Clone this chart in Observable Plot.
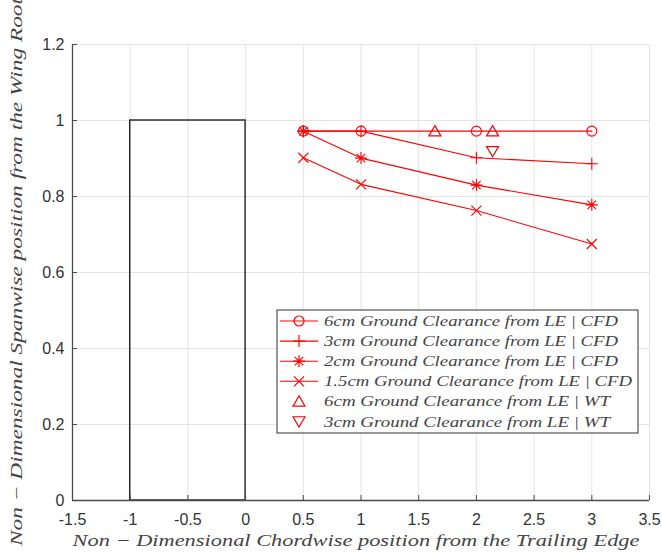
<!DOCTYPE html>
<html><head><meta charset="utf-8">
<script src="https://cdn.jsdelivr.net/npm/d3@7"></script>
<script src="https://cdn.jsdelivr.net/npm/@observablehq/plot@0.6"></script>
<style>
body{margin:0;background:#fff}
#chart{position:relative;width:662px;height:558px}
</style>
</head><body><div id="chart"></div>
<script>
// ---- data ----
const xTicks = [-1.5, -1, -0.5, 0, 0.5, 1, 1.5, 2, 2.5, 3, 3.5];
const yTicks = [0, 0.2, 0.4, 0.6, 0.8, 1, 1.2];
const cfdX = [0.5, 1, 2, 3];
const cfd6cm = [0.972, 0.972, 0.972, 0.972];
const cfd3cm = [0.972, 0.972, 0.902, 0.886];
const cfd2cm = [0.972, 0.901, 0.830, 0.778];
const cfd15cm = [0.902, 0.832, 0.763, 0.675];
const wt6cmX = [1.64, 2.14];
const wt6cmY = [0.972, 0.972];
const wt3cmX = [2.14];
const wt3cmY = [0.919];
const wingX = [-1, 0];
const wingY = [0, 1];
const legendLabels = [
  "6cm Ground Clearance from LE | CFD",
  "3cm Ground Clearance from LE | CFD",
  "2cm Ground Clearance from LE | CFD",
  "1.5cm Ground Clearance from LE | CFD",
  "6cm Ground Clearance from LE | WT",
  "3cm Ground Clearance from LE | WT"
];
const xLabel = "Non \u2212 Dimensional Chordwise position from the Trailing Edge";
const yLabel = "Non \u2212 Dimensional Spanwise position from the Wing Root";

// ---- custom marker symbols (MATLAB-like) ----
const S = size => Math.sqrt(size / Math.PI);
const symCircle = {draw(c, size){ const s = S(size); c.moveTo(s, 0); c.arc(0, 0, s, 0, 2 * Math.PI); }};
const symPlus = {draw(c, size){ const s = S(size) * 1.2; c.moveTo(-s, 0); c.lineTo(s, 0); c.moveTo(0, -s); c.lineTo(0, s); }};
const symTimes = {draw(c, size){ const s = S(size) * 1.0; c.moveTo(-s, -s); c.lineTo(s, s); c.moveTo(-s, s); c.lineTo(s, -s); }};
const symAsterisk = {draw(c, size){ const s = S(size) * 1.2, t = S(size) * 0.85;
  c.moveTo(-s, 0); c.lineTo(s, 0); c.moveTo(0, -s); c.lineTo(0, s);
  c.moveTo(-t, -t); c.lineTo(t, t); c.moveTo(-t, t); c.lineTo(t, -t); }};
const symTriUp = {draw(c, size){ const s = S(size); c.moveTo(0, -1.1 * s); c.lineTo(1.2 * s, 0.95 * s); c.lineTo(-1.2 * s, 0.95 * s); c.closePath(); }};
const symTriDown = {draw(c, size){ const s = S(size); c.moveTo(0, 1.1 * s); c.lineTo(1.2 * s, -0.95 * s); c.lineTo(-1.2 * s, -0.95 * s); c.closePath(); }};

const cfdSeries = [
  {name: legendLabels[0], y: cfd6cm, symbol: symCircle},
  {name: legendLabels[1], y: cfd3cm, symbol: symPlus},
  {name: legendLabels[2], y: cfd2cm, symbol: symAsterisk},
  {name: legendLabels[3], y: cfd15cm, symbol: symTimes}
];
const cfdRows = cfdSeries.flatMap(s => cfdX.map((x, i) => ({series: s.name, x, y: s.y[i]})));
const wt6Rows = wt6cmX.map((x, i) => ({x, y: wt6cmY[i]}));
const wt3Rows = wt3cmX.map((x, i) => ({x, y: wt3cmY[i]}));
const wingRows = [{x1: wingX[0], x2: wingX[1], y1: wingY[0], y2: wingY[1]}];

const W = 662, H = 558;
const mL = 72, mR = 13, mT = 44, mB = 58;
const innerW = W - mL - mR, innerH = H - mT - mB;
const RED = "#ff0000";
const AX = "#4a4a4a";
const markR = 5;

const marks = [
  Plot.ruleX(xTicks, {x: d => d, stroke: "#e4e4e4", strokeWidth: 1}),
  Plot.ruleY(yTicks, {y: d => d, stroke: "#e4e4e4", strokeWidth: 1}),
  Plot.rect(wingRows, {x1: "x1", x2: "x2", y1: "y1", y2: "y2", fill: "none", stroke: "#222", strokeWidth: 1.4}),
  Plot.line(cfdRows, {x: "x", y: "y", z: "series", stroke: RED, strokeWidth: 1.1}),
  ...cfdSeries.map(s => Plot.dot(cfdRows.filter(r => r.series === s.name), {x: "x", y: "y", symbol: s.symbol, r: markR, stroke: RED, fill: "none", strokeWidth: 1.1})),
  Plot.dot(wt6Rows, {x: "x", y: "y", symbol: symTriUp, r: markR, stroke: RED, fill: "none", strokeWidth: 1.2}),
  Plot.dot(wt3Rows, {x: "x", y: "y", symbol: symTriDown, r: markR, stroke: RED, fill: "none", strokeWidth: 1.2}),
  Plot.ruleY([yTicks[0]], {y: d => d, stroke: AX, strokeWidth: 1.3}),
  Plot.ruleX([xTicks[0]], {x: d => d, stroke: AX, strokeWidth: 1.3}),
  Plot.tickX(xTicks, {x: d => d, insetTop: innerH - 5, stroke: AX, strokeWidth: 1}),
  Plot.tickY(yTicks, {y: d => d, insetRight: innerW - 5, stroke: AX, strokeWidth: 1}),
  Plot.axisX({ticks: xTicks, tickSize: 0, tickPadding: 13, tickFormat: d => String(d), label: null}),
  Plot.axisY({ticks: yTicks, tickSize: 0, tickPadding: 8, tickFormat: d => String(d), label: null})
];

const chart = Plot.plot({
  width: W, height: H,
  marginLeft: mL, marginRight: mR, marginTop: mT, marginBottom: mB,
  x: {domain: [xTicks[0], xTicks[xTicks.length - 1]]},
  y: {domain: [yTicks[0], yTicks[yTicks.length - 1]]},
  style: {fontFamily: "'Liberation Sans', Arial, sans-serif", fontSize: "16px", color: "#333", background: "#fff"},
  marks
});
document.getElementById("chart").appendChild(chart);

// ---- axis titles and legend (layout decorations) ----
const svg = d3.select(chart);
const serif = "Liberation Serif";
svg.append("text")
  .attr("x", 356).attr("y", 546)
  .attr("text-anchor", "middle")
  .attr("font-family", serif).attr("font-style", "italic").attr("font-weight", "normal").attr("font-size", 16.5)
  .attr("fill", "#444")
  .attr("textLength", 567).attr("lengthAdjust", "spacingAndGlyphs")
  .text(xLabel);
svg.append("text")
  .attr("transform", `translate(${22},${272}) rotate(-90)`)
  .attr("text-anchor", "middle")
  .attr("font-family", serif).attr("font-style", "italic").attr("font-weight", "normal").attr("font-size", 16.5)
  .attr("fill", "#444")
  .attr("textLength", 548).attr("lengthAdjust", "spacingAndGlyphs")
  .text(yLabel);

const lg = svg.append("g");
lg.append("rect").attr("x", 277).attr("y", 310).attr("width", 361).attr("height", 123)
  .attr("fill", "#fff").attr("stroke", "#333").attr("stroke-width", 1);
const legendSyms = [symCircle, symPlus, symAsterisk, symTimes, symTriUp, symTriDown];
const legendHasLine = [true, true, true, true, false, false];
const textEnds = [618, 618, 618, 632, 610, 610];
legendLabels.forEach((lab, i) => {
  const cy = 321 + i * 20.1;
  if (legendHasLine[i]) {
    lg.append("line").attr("x1", 280).attr("x2", 318).attr("y1", cy).attr("y2", cy)
      .attr("stroke", RED).attr("stroke-width", 1.1);
  }
  lg.append("path").attr("transform", `translate(299,${cy})`)
    .attr("d", d3.symbol(legendSyms[i], markR * markR * Math.PI)())
    .attr("fill", "none").attr("stroke", RED).attr("stroke-width", 1.2);
  lg.append("text").attr("x", 324).attr("y", cy).attr("dy", "0.35em")
    .attr("text-anchor", "start")
    .attr("font-family", serif).attr("font-style", "italic").attr("font-weight", "normal").attr("font-size", 14.5)
    .attr("fill", "#444")
    .attr("textLength", textEnds[i] - 324).attr("lengthAdjust", "spacingAndGlyphs")
    .text(lab);
});
</script>
</body></html>
